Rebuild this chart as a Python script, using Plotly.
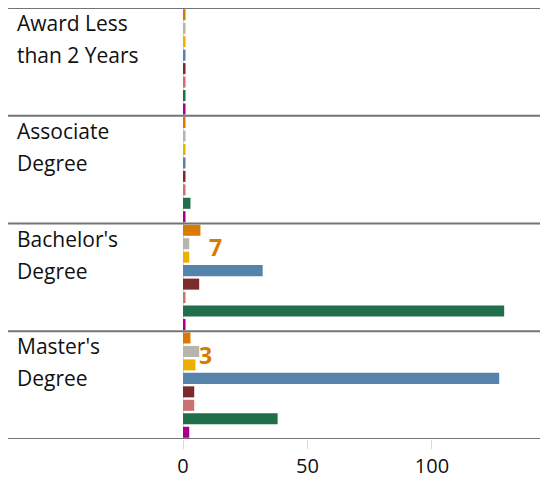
import plotly.graph_objects as go

categories = ["Award Less than 2 Years", "Associate Degree", "Bachelor's Degree", "Master's Degree"]
category_lines = [["Award Less", "than 2 Years"], ["Associate", "Degree"], ["Bachelor's", "Degree"], ["Master's", "Degree"]]

series_names = ["Series 1", "Series 2", "Series 3", "Series 4", "Series 5", "Series 6", "Series 7", "Series 8"]
series_colors = ["#D97A00", "#B7B3AD", "#ECB000", "#5583AC", "#7C2A2A", "#C97272", "#216E4B", "#A5008D"]
series_values = [
    [1, 1, 7, 3],
    [1, 1, 2.5, 6.5],
    [1, 1, 2.5, 5],
    [1, 1, 32, 127],
    [1, 1, 6.5, 4.5],
    [1, 1, 1, 4.5],
    [1, 3, 129, 38],
    [1, 1, 1, 2.5],
]
label_series = 0  # data labels shown for the first (orange) series
label_min = 2

x_ticks = [0, 50, 100]
x_range = [-70.3, 146.6]

fig = go.Figure()
for name, color, vals in zip(series_names, series_colors, series_values):
    fig.add_trace(go.Bar(
        y=categories, x=vals, name=name, orientation="h",
        marker=dict(color=color, line=dict(width=0)),
    ))

font_family = "Open Sans"
annotations = []
for i, lines in enumerate(category_lines):
    for j, line in enumerate(lines):
        annotations.append(dict(
            xref="x", yref="y", x=-67.6, y=i - 0.5,
            xanchor="left", yanchor="middle",
            yshift=-15 - 32 * j,
            text=line, showarrow=False,
            font=dict(family=font_family, size=21, color="#111111"),
        ))

for i, v in enumerate(series_values[label_series]):
    if v >= label_min:
        annotations.append(dict(
            xref="x", yref="y", x=v, y=i - 0.282,
            xanchor="center", yanchor="middle", xshift=15,
            text="<b>%g</b>" % v, showarrow=False,
            font=dict(family=font_family, size=23, color=series_colors[label_series]),
        ))

shapes = []
for k in range(len(categories) + 1):
    shapes.append(dict(
        type="line", xref="paper", yref="y", x0=0, x1=1.02, y0=k - 0.5, y1=k - 0.5,
        line=dict(color="#747474", width=2), layer="above",
    ))

fig.update_layout(
    width=540, height=474,
    margin=dict(l=0, r=0, t=0, b=43),
    paper_bgcolor="white", plot_bgcolor="white",
    barmode="group", bargap=0, bargroupgap=0.18,
    showlegend=False,
    annotations=annotations, shapes=shapes,
    xaxis=dict(
        range=x_range, tickvals=x_ticks, ticktext=[str(t) for t in x_ticks],
        showgrid=False, zeroline=True, zerolinecolor="#D9D9D9", zerolinewidth=1,
        ticks="outside", ticklen=9, tickcolor="#D9D9D9", showline=False,
        tickfont=dict(family=font_family, size=20, color="#111111"),
        automargin=False, fixedrange=True,
    ),
    yaxis=dict(
        type="category", categoryarray=categories, categoryorder="array",
        range=[3.5, -0.5], showticklabels=False, showgrid=False, zeroline=False,
        ticks="", automargin=False, fixedrange=True,
    ),
)

fig.write_html("out.html")
